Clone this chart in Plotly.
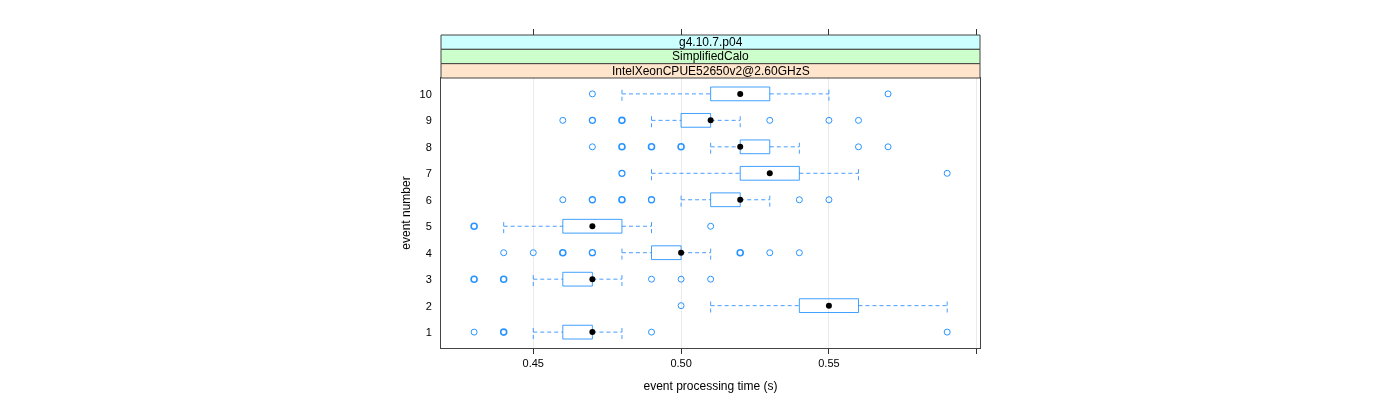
import plotly.graph_objects as go

# ---- data ----
events = [1, 2, 3, 4, 5, 6, 7, 8, 9, 10]
lower_whisker = [0.45, 0.51, 0.45, 0.48, 0.44, 0.50, 0.49, 0.51, 0.49, 0.48]
q1 = [0.46, 0.54, 0.46, 0.49, 0.46, 0.51, 0.52, 0.52, 0.50, 0.51]
median = [0.47, 0.55, 0.47, 0.50, 0.47, 0.52, 0.53, 0.52, 0.51, 0.52]
q3 = [0.47, 0.56, 0.47, 0.50, 0.48, 0.52, 0.54, 0.53, 0.51, 0.53]
upper_whisker = [0.48, 0.59, 0.48, 0.51, 0.49, 0.53, 0.56, 0.54, 0.52, 0.55]
# outliers per event: (value, multiplicity)
outliers = [
    [(0.43, 1), (0.44, 3), (0.49, 1), (0.59, 1)],
    [(0.50, 1)],
    [(0.43, 3), (0.44, 3), (0.49, 1), (0.50, 1), (0.51, 1)],
    [(0.44, 1), (0.45, 1), (0.46, 3), (0.47, 2), (0.52, 3), (0.53, 1), (0.54, 1)],
    [(0.43, 3), (0.51, 1)],
    [(0.46, 1), (0.47, 2), (0.48, 3), (0.49, 2), (0.54, 1), (0.55, 1)],
    [(0.48, 2), (0.59, 1)],
    [(0.47, 1), (0.48, 3), (0.49, 3), (0.50, 3), (0.56, 1), (0.57, 1)],
    [(0.46, 1), (0.47, 2), (0.48, 3), (0.53, 1), (0.55, 1), (0.56, 1)],
    [(0.47, 1), (0.57, 1)],
]
x_ticks = [0.45, 0.50, 0.55, 0.60]
x_tick_labels = ["0.45", "0.50", "0.55", ""]
strip_labels = ["g4.10.7.p04", "SimplifiedCalo", "IntelXeonCPUE52650v2@2.60GHzS"]
strip_colors = ["#CCFFFF", "#CCFFCC", "#FFE5CC"]

BLUE = "#0080ff"
LINE_BLUE = "rgba(0,128,255,0.75)"
WHISK_BLUE = "rgba(40,140,255,0.85)"
HALF = 0.26  # half box height in y units

fig = go.Figure()

# whiskers (dashed) incl. caps
wx, wy = [], []
for e, lw, a, b, uw in zip(events, lower_whisker, q1, q3, upper_whisker):
    wx += [lw, a, None, b, uw, None, lw, lw, None, uw, uw, None]
    wy += [e, e, None, e, e, None, e - HALF, e + HALF, None, e - HALF, e + HALF, None]
fig.add_trace(go.Scatter(x=wx, y=wy, mode="lines",
                         line=dict(color=WHISK_BLUE, width=1, dash="4px,3px"),
                         hoverinfo="skip", showlegend=False))

# boxes
bx, by = [], []
for e, a, b in zip(events, q1, q3):
    bx += [a, b, b, a, a, None]
    by += [e - HALF, e - HALF, e + HALF, e + HALF, e - HALF, None]
fig.add_trace(go.Scatter(x=bx, y=by, mode="lines",
                         line=dict(color=LINE_BLUE, width=1),
                         hoverinfo="skip", showlegend=False))

# outliers
ox, oy, ow = [], [], []
for e, lst in zip(events, outliers):
    for v, m in lst:
        ox.append(v)
        oy.append(e)
        ow.append(1 if m == 1 else (1.3 if m == 2 else 1.6))
fig.add_trace(go.Scatter(x=ox, y=oy, mode="markers",
                         marker=dict(symbol="circle-open", size=6, color=BLUE,
                                     line=dict(width=ow, color=BLUE)),
                         opacity=0.85, showlegend=False))

# medians
fig.add_trace(go.Scatter(x=median, y=events, mode="markers",
                         marker=dict(symbol="circle", size=6, color="black"),
                         showlegend=False))

# top ticks (above strips)
fig.add_trace(go.Scatter(x=[None], y=[None], xaxis="x2", yaxis="y", showlegend=False))

# page body has an 8px margin: compensate so the plot lands where the reference has it
T, B, L, R = 27, 60, 433, 428
PH = 400 - T - B
DOM_TOP = 270 / PH
fig.update_layout(
    width=1400, height=400,
    margin=dict(l=L, r=R, t=T, b=B),
    paper_bgcolor="white", plot_bgcolor="white",
    font=dict(family="Liberation Sans, Arial, sans-serif", size=11, color="black"),
    xaxis=dict(range=[0.4188, 0.6011], tickvals=x_ticks, ticktext=x_tick_labels,
               ticks="outside", ticklen=5, tickcolor="#333", tickwidth=1,
               showgrid=True, gridcolor="#ebebeb", gridwidth=1,
               showline=True, linecolor="#444", linewidth=1, mirror=True,
               zeroline=False,
               title=dict(text="event processing time (s)", standoff=13,
                          font=dict(size=12))),
    xaxis2=dict(range=[0.4188, 0.6011], tickvals=x_ticks, ticktext=["", "", "", ""],
                overlaying="x", side="top", anchor="free", position=1,
                ticks="outside", ticklen=6, tickcolor="#333",
                showgrid=False, showline=False, zeroline=False),
    yaxis=dict(range=[0.4, 10.6], domain=[0, DOM_TOP], tickvals=events,
               ticktext=[str(e) for e in events], ticks="", showgrid=False,
               ticklabelstandoff=6,
               showline=True, linecolor="#444", linewidth=1, mirror=True,
               zeroline=False,
               title=dict(text="event number", standoff=6, font=dict(size=12))),
)

# strips
n = len(strip_labels)
h = (1 - DOM_TOP) / n
for i, (lab, col) in enumerate(zip(strip_labels, strip_colors)):
    y1 = 1 - i * h
    y0 = y1 - h
    fig.add_shape(type="rect", xref="paper", yref="paper", x0=0, x1=1, y0=y0, y1=y1,
                  fillcolor=col, line=dict(color="#444", width=1), layer="above")
    fig.add_annotation(xref="paper", yref="paper", x=0.5, y=(y0 + y1) / 2,
                       text=lab, showarrow=False, font=dict(size=12),
                       yanchor="middle")

fig.write_html("out.html")
